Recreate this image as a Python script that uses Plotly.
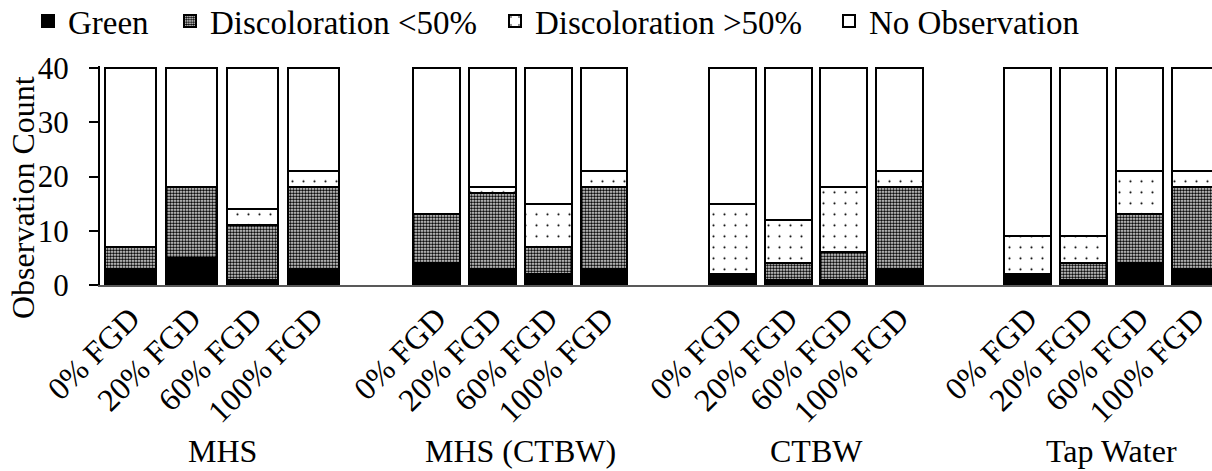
import plotly.graph_objects as go

W, H = 1212, 471

categories = ["0% FGD", "20% FGD", "60% FGD", "100% FGD"]
groups = ["MHS", "MHS (CTBW)", "CTBW", "Tap Water"]

green_mhs = [3, 5, 1, 3]
green_mhs_ctbw = [4, 3, 2, 3]
green_ctbw = [2, 1, 1, 3]
green_tap = [2, 1, 4, 3]

disc_lt50_mhs = [4, 13, 10, 15]
disc_lt50_mhs_ctbw = [9, 14, 5, 15]
disc_lt50_ctbw = [0, 3, 5, 15]
disc_lt50_tap = [0, 3, 9, 15]

disc_gt50_mhs = [0, 0, 3, 3]
disc_gt50_mhs_ctbw = [0, 1, 8, 3]
disc_gt50_ctbw = [13, 8, 12, 3]
disc_gt50_tap = [7, 5, 8, 3]

no_obs_mhs = [33, 22, 26, 19]
no_obs_mhs_ctbw = [27, 22, 25, 19]
no_obs_ctbw = [25, 28, 22, 19]
no_obs_tap = [31, 31, 19, 19]

yticks = [0, 10, 20, 30, 40]

series_names = ["Green", "Discoloration <50%", "Discoloration >50%", "No Observation"]
series_data = [
    [green_mhs, green_mhs_ctbw, green_ctbw, green_tap],
    [disc_lt50_mhs, disc_lt50_mhs_ctbw, disc_lt50_ctbw, disc_lt50_tap],
    [disc_gt50_mhs, disc_gt50_mhs_ctbw, disc_gt50_ctbw, disc_gt50_tap],
    [no_obs_mhs, no_obs_mhs_ctbw, no_obs_ctbw, no_obs_tap],
]

FONT = "'Liberation Serif', 'Times New Roman', Times, serif"

markers = [
    dict(color="black", line=dict(color="black", width=2)),
    dict(color="white", pattern=dict(shape=".", size=3, solidity=0.62,
                                     fgcolor="black", bgcolor="white", fillmode="replace"),
         line=dict(color="black", width=2)),
    dict(color="white", pattern=dict(shape=".", size=11, solidity=0.03,
                                     fgcolor="black", bgcolor="white", fillmode="replace"),
         line=dict(color="black", width=2)),
    dict(color="white", line=dict(color="black", width=2)),
]

legend_names = ["legend", "legend2", "legend3", "legend4"]
xaxes = ["x", "x2", "x3", "x4"]

fig = go.Figure()
for si, name in enumerate(series_names):
    for gi in range(4):
        fig.add_trace(go.Bar(
            x=categories, y=series_data[si][gi], name=name,
            xaxis=xaxes[gi], yaxis="y",
            marker=markers[si],
            showlegend=(gi == 0),
            legend=legend_names[si],
        ))

def px(v):
    return v / W

# subplot domains (pixels) and category ranges
dom = [(100, 344), (344, 631), (631, 927), (927, 1212)]
slot_start = [100, 409, 705, 1000]
slot_w = [61, 55.7, 55.5, 55.7]

axis_common = dict(
    type="category", showline=True, linecolor="#595959", linewidth=2,
    ticks="", showgrid=False, zeroline=False, tickangle=-45,
    tickfont=dict(family=FONT, size=32, color="black"),
    anchor="y", fixedrange=True, automargin=False,
)
for gi in range(4):
    d0, d1 = dom[gi]
    r0 = -0.5 - (slot_start[gi] - d0) / slot_w[gi]
    r1 = -0.5 + (d1 - slot_start[gi]) / slot_w[gi]
    ax = dict(axis_common, domain=[px(d0), px(d1)], range=[r0, r1],
              categoryorder="array", categoryarray=categories)
    key = "xaxis" if gi == 0 else f"xaxis{gi+1}"
    fig.update_layout(**{key: ax})

y_top_px = 68 - 0.4 * (285 - 68) / 40
fig.update_layout(
    yaxis=dict(
        domain=[(H - 285) / H, (H - y_top_px) / H], range=[0, 40.4],
        tickvals=yticks, showline=True, linecolor="black", linewidth=2,
        ticks="outside", ticklen=9, tickwidth=2, tickcolor="black",
        showgrid=False, zeroline=False, ticklabelstandoff=14,
        tickfont=dict(family=FONT, size=31, color="black"),
        anchor="x", fixedrange=True, automargin=False,
    ),
    barmode="stack", bargap=0.16,
    width=W, height=H, autosize=False,
    margin=dict(l=0, r=0, t=0, b=0, pad=0, autoexpand=False),
    paper_bgcolor="white", plot_bgcolor="white",
    font=dict(family=FONT, size=30, color="black"),
)

legend_text_x = [68, 210, 535, 869]
for li, ln in enumerate(legend_names):
    fig.update_layout(**{ln: dict(
        x=px(legend_text_x[li] - 40), xanchor="left", y=1 - 21 / H, yanchor="middle",
        orientation="h", bgcolor="rgba(0,0,0,0)", borderwidth=0,
        font=dict(family=FONT, size=33, color="black"),
    )})

annotations = [dict(
    text="Observation Count", textangle=-90, x=px(23), y=(H - 198) / H,
    xref="paper", yref="paper", showarrow=False,
    font=dict(family=FONT, size=32, color="black"),
    xanchor="center", yanchor="middle",
)]
for gi, g in enumerate(groups):
    annotations.append(dict(
        text=g, x=1.5, xref=xaxes[gi], y=(H - 451) / H, yref="paper",
        showarrow=False, xanchor="center", yanchor="middle",
        font=dict(family=FONT, size=32, color="black"),
    ))
fig.update_layout(annotations=annotations)

fig.write_html("out.html", config={"displayModeBar": False})
